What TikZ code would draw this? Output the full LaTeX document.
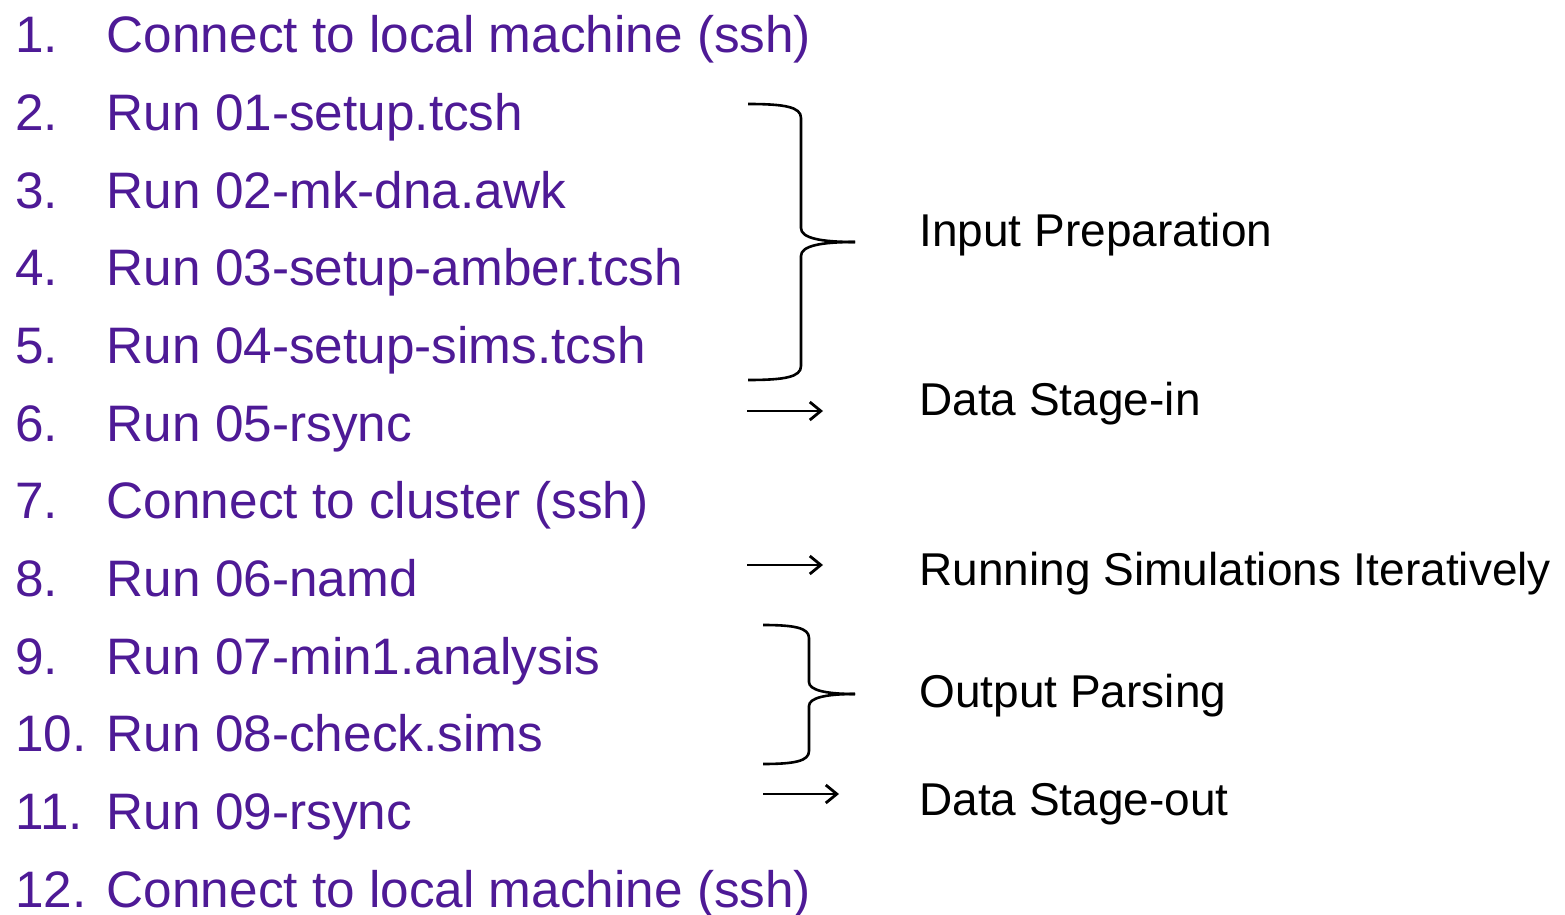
\documentclass[tikz,border=0pt]{standalone}
\usepackage{fontspec}
\setmainfont{Liberation Sans}
\usetikzlibrary{arrows.meta}
\definecolor{steppurple}{RGB}{78,26,150}
\begin{document}
\begin{tikzpicture}[x=0.5pt,y=-0.5pt,
  num/.style={anchor=base west,inner sep=0pt,text=steppurple,font=\fontsize{25.65pt}{30pt}\selectfont},
  item/.style={anchor=base west,inner sep=0pt,text=steppurple,font=\fontsize{25.65pt}{30pt}\selectfont},
  phase/.style={anchor=base west,inner sep=0pt,font=\fontsize{23pt}{27pt}\selectfont},
  brace/.style={draw=black,line width=1.3pt},
  flow/.style={draw=black,line width=1.3pt,-{Straight Barb[length=5.5pt,width=9pt,line width=1.4pt]}}]
\useasboundingbox (0,0) rectangle (1565,915);

% numbered steps
\foreach \i/\t [count=\k] in {
  1/Connect to local machine (ssh),
  2/Run 01-setup.tcsh,
  3/Run 02-mk-dna.awk,
  4/Run 03-setup-amber.tcsh,
  5/Run 04-setup-sims.tcsh,
  6/Run 05-rsync,
  7/Connect to cluster (ssh),
  8/Run 06-namd,
  9/Run 07-min1.analysis,
  10/Run 08-check.sims,
  11/Run 09-rsync,
  12/Connect to local machine (ssh)} {
  \node[num] (n\k) at (15,{53+(\k-1)*77.64}) {\i.};
  \node[item] (s\k) at (106.5,{53+(\k-1)*77.64}) {\t};
}

% phase labels
\node[phase] (prep) at (919,247) {Input Preparation};
\node[phase] (stin) at (919,415) {Data Stage-in};
\node[phase] (run)  at (919,585) {Running Simulations Iteratively};
\node[phase] (pars) at (919,707) {Output Parsing};
\node[phase] (stout) at (919,815) {Data Stage-out};

% braces
\coordinate (b1tip) at (855,242);
\draw[brace] (748,104) .. controls (785,104) and (801,107) .. (801,118)
  -- (801,228) .. controls (801,238) and (820,242) .. (b1tip);
\draw[brace] (748,380) .. controls (785,380) and (801,377) .. (801,366)
  -- (801,256) .. controls (801,246) and (820,242) .. (b1tip);

\coordinate (b2tip) at (855,694);
\draw[brace] (763,625) .. controls (795,625) and (809,628) .. (809,638)
  -- (809,682) .. controls (809,690) and (825,694) .. (b2tip);
\draw[brace] (763,764) .. controls (795,764) and (809,761) .. (809,751)
  -- (809,706) .. controls (809,698) and (825,694) .. (b2tip);

% arrows
\coordinate (a1s) at (747,411); \coordinate (a1e) at (823,411);
\coordinate (a2s) at (747,565); \coordinate (a2e) at (823,565);
\coordinate (a3s) at (763,794); \coordinate (a3e) at (839,794);
\draw[flow] (a1s) -- (a1e);
\draw[flow] (a2s) -- (a2e);
\draw[flow] (a3s) -- (a3e);
\end{tikzpicture}
\end{document}
